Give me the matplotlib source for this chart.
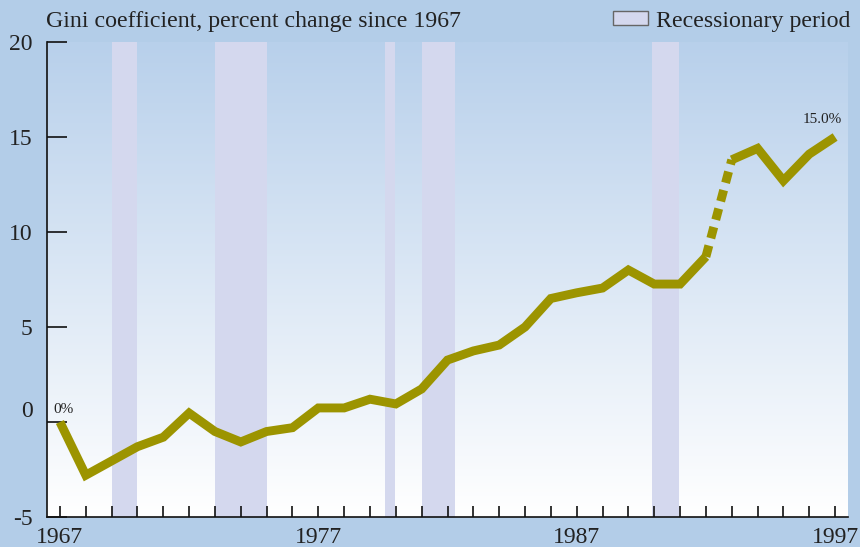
import numpy as np
import matplotlib
matplotlib.use("Agg")
import matplotlib.pyplot as plt
from matplotlib.patches import Patch

# Gini coefficient, percent change since 1967
years = list(range(1967, 1998))
gini_change = [0.0, -2.8, -2.05, -1.3, -0.8, 0.47, -0.5, -1.05, -0.5, -0.3,
               0.74, 0.74, 1.2, 0.95, 1.74, 3.26, 3.74, 4.05, 5.0, 6.5,
               6.8, 7.05, 8.0, 7.26, 7.26, 8.7, 13.8, 14.4, 12.7, 14.1, 15.0]

# Break in the series (method change) drawn dashed between these years
break_start, break_end = 1992, 1993

# Recession periods (start, end) in fractional years
recessions = [(1969.0, 1970.0), (1973.0, 1975.0), (1979.58, 1979.97),
              (1981.0, 1982.3), (1989.93, 1990.96)]

y_ticks = [-5, 0, 5, 10, 15, 20]
y_labels = ["-5", "0", "5", "10", "15", "20"]
x_labeled = [1967, 1977, 1987, 1997]

title_text = "Gini coefficient, percent change since 1967"
legend_text = "Recessionary period"

outer_bg = "#b3cde8"
rec_color = "#d4d8ee"
line_color = "#9c9400"
text_color = "#222222"
serif = ["Liberation Serif", "DejaVu Serif"]

plt.rcParams["font.family"] = serif

fig = plt.figure(figsize=(8.6, 5.47), dpi=100, facecolor=outer_bg)
ax = fig.add_axes([47 / 860, 30 / 547, (848 - 47) / 860, (517 - 42) / 547])
ax.set_xlim(1966.5, 1997.5)
ax.set_ylim(-5, 20)

# vertical gradient inside the plot area: blue at top fading to white
top_rgb = np.array([184, 208, 235]) / 255
bot_rgb = np.array([255, 255, 255]) / 255
t = np.linspace(0, 1, 256)[:, None]
grad = (1 - t) * top_rgb + t * bot_rgb
grad = grad[:, None, :]
ax.imshow(grad, extent=[0, 1, 0, 1], transform=ax.transAxes,
          aspect="auto", zorder=0, interpolation="bilinear")

for s, e in recessions:
    ax.axvspan(s, e, color=rec_color, lw=0, zorder=1)

yrs = np.array(years)
vals = np.array(gini_change)
i0 = years.index(break_start)
i1 = years.index(break_end)
lw = 6.4
common = dict(color=line_color, lw=lw, zorder=3,
              solid_capstyle="butt", solid_joinstyle="miter")
ax.plot(yrs[:i0 + 1], vals[:i0 + 1], **common)
ax.plot(yrs[i1:], vals[i1:], **common)
ax.plot(yrs[i0:i1 + 1], vals[i0:i1 + 1], color=line_color, lw=lw, zorder=3,
        linestyle=(0, (1.3, 0.85)), dash_capstyle="butt")

# end-point value labels
ax.annotate(f"{gini_change[0]:.0f}%", (years[0], gini_change[0]),
            xytext=(-4.5, 9), textcoords="offset points",
            ha="left", va="center", fontsize=11, color=text_color, zorder=4)
ax.annotate(f"{gini_change[-1]:.1f}%", (years[-1], gini_change[-1]),
            xytext=(-9.5, 12.5), textcoords="offset points",
            ha="center", va="center", fontsize=11, color=text_color, zorder=4)

# spines
for side in ("top", "right"):
    ax.spines[side].set_visible(False)
for side in ("left", "bottom"):
    ax.spines[side].set_linewidth(1.2)
    ax.spines[side].set_color("#111111")
    ax.spines[side].set_zorder(5)

# y axis: long inward ticks, labels to the left
ax.set_yticks(y_ticks)
ax.set_yticklabels([("" if v == 0 else lab) for v, lab in zip(y_ticks, y_labels)])
ax.tick_params(axis="y", direction="in", length=14.5, width=1.2,
               color="#111111", pad=10.5, labelsize=17, labelcolor=text_color)
# the zero label sits a little above its tick
ax.annotate(y_labels[y_ticks.index(0)], (0, 0),
            xycoords=("axes fraction", "data"),
            xytext=(-10.5, 7.5), textcoords="offset points",
            ha="right", va="center", fontsize=17, color=text_color,
            annotation_clip=False)

# x axis: inward tick at every year, labels each decade
ax.set_xticks(x_labeled)
ax.set_xticklabels([str(x) for x in x_labeled])
ax.set_xticks(years, minor=True)
ax.tick_params(axis="x", which="both", direction="in", length=8, width=1.2,
               color="#111111")
ax.tick_params(axis="x", which="major", pad=7, labelsize=17,
               labelcolor=text_color)

# title and legend in the top band
fig.text(46 / 860, 1 - 21 / 547, title_text, ha="left", va="center",
         fontsize=17.2, color=text_color)
handle = Patch(facecolor=rec_color, edgecolor="#666666", linewidth=1.0)
fig.legend([handle], [legend_text], loc="center right",
           bbox_to_anchor=(850 / 860, 1 - 21 / 547), frameon=False,
           fontsize=17.2, handlelength=1.45, handleheight=0.58,
           handletextpad=0.32, borderpad=0, borderaxespad=0,
           labelcolor=text_color)

fig.savefig("out.png", dpi=100, facecolor=outer_bg)
